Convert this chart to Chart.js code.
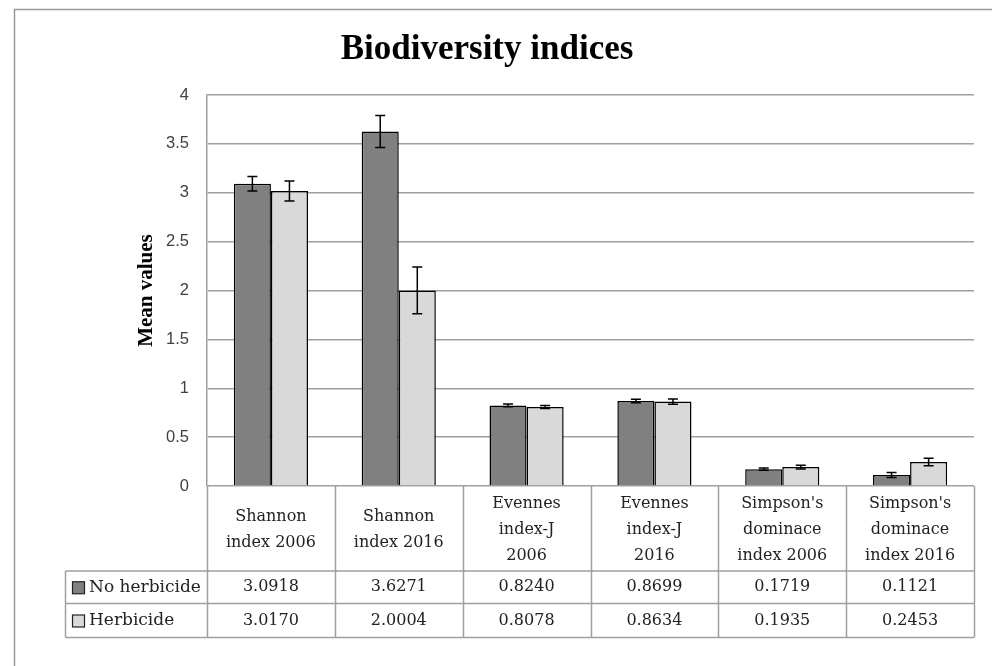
<!DOCTYPE html>
<html>
<head>
<meta charset="utf-8">
<script src="https://cdn.jsdelivr.net/npm/chart.js@4/dist/chart.umd.min.js"></script>
<style>
  html, body { margin: 0; padding: 0; background: #fff; }
  #wrap { width: 992px; height: 666px; }
</style>
</head>
<body>
<div id="wrap"><canvas id="myChart" width="992" height="666"></canvas></div>
<script>
const categories = [
    ['Shannon', 'index 2006'],
    ['Shannon', 'index 2016'],
    ['Evennes', 'index-J', '2006'],
    ['Evennes', 'index-J', '2016'],
    ["Simpson's", 'dominace', 'index 2006'],
    ["Simpson's", 'dominace', 'index 2016']
];
const seriesNames = ['No herbicide', 'Herbicide'];
const noHerbicide = [3.0918, 3.6271, 0.8240, 0.8699, 0.1719, 0.1121];
const herbicide = [3.0170, 2.0004, 0.8078, 0.8634, 0.1935, 0.2453];
// error bar half-lengths
const noHerbicideErr = [0.074, 0.164, 0.014, 0.017, 0.012, 0.026];
const herbicideErr = [0.102, 0.239, 0.015, 0.026, 0.020, 0.038];
const yTicks = [0, 0.5, 1, 1.5, 2, 2.5, 3, 3.5, 4];

const serif = "'Liberation Serif', 'DejaVu Serif', serif";
const tableFont = "'DejaVu Serif', serif";
const lineGray = '#a0a0a0';

// white page + outer frame
const framePlugin = {
    id: 'frame',
    beforeDraw(chart) {
        const ctx = chart.ctx;
        ctx.save();
        ctx.fillStyle = '#fff';
        ctx.fillRect(0, 0, chart.width, chart.height);
        ctx.strokeStyle = '#999';
        ctx.lineWidth = 1.5;
        ctx.strokeRect(14.5, 9.5, chart.width + 20, chart.height + 20);
        ctx.restore();
    }
};

// error bars on top of each bar
const errorBarPlugin = {
    id: 'errorBars',
    afterDatasetsDraw(chart) {
        const ctx = chart.ctx;
        const y = chart.scales.y;
        const errs = [noHerbicideErr, herbicideErr];
        ctx.save();
        ctx.strokeStyle = '#000';
        ctx.lineWidth = 1.5;
        chart.data.datasets.forEach((ds, di) => {
            chart.getDatasetMeta(di).data.forEach((bar, i) => {
                const v = ds.data[i];
                const e = errs[di][i];
                const top = y.getPixelForValue(v + e);
                const bot = y.getPixelForValue(v - e);
                ctx.beginPath();
                ctx.moveTo(bar.x, top); ctx.lineTo(bar.x, bot);
                ctx.moveTo(bar.x - 5, top); ctx.lineTo(bar.x + 5, top);
                ctx.moveTo(bar.x - 5, bot); ctx.lineTo(bar.x + 5, bot);
                ctx.stroke();
            });
        });
        ctx.restore();
    }
};

// Excel style data table under the plot
const dataTablePlugin = {
    id: 'dataTable',
    afterDraw(chart) {
        const ctx = chart.ctx;
        const x = chart.scales.x;
        const area = chart.chartArea;
        const n = categories.length;
        const colW = (area.right - area.left) / n;
        const headTop = area.bottom;
        const row1 = 571, row2 = 603.5, rowEnd = 637.5;
        const legendLeft = 65.5;
        const rows = [noHerbicide, herbicide];
        const colors = chart.data.datasets.map(d => d.backgroundColor);

        ctx.save();
        ctx.strokeStyle = lineGray;
        ctx.lineWidth = 1.5;
        ctx.beginPath();
        // verticals through header and rows
        for (let i = 0; i <= n; i++) {
            const bx = Math.round(x.getPixelForValue(i) - colW / 2) + 0.5;
            ctx.moveTo(bx, headTop);
            ctx.lineTo(bx, rowEnd);
        }
        ctx.moveTo(legendLeft, row1); ctx.lineTo(legendLeft, rowEnd);
        // horizontals
        ctx.moveTo(legendLeft, row1); ctx.lineTo(area.right, row1);
        ctx.moveTo(legendLeft, row2); ctx.lineTo(area.right, row2);
        ctx.moveTo(legendLeft, rowEnd); ctx.lineTo(area.right, rowEnd);
        ctx.stroke();

        ctx.fillStyle = '#222';
        ctx.font = '16px ' + tableFont;
        ctx.textAlign = 'center';
        ctx.textBaseline = 'middle';
        const lh = 26;
        categories.forEach((lines, i) => {
            const cx = x.getPixelForValue(i);
            const midY = (headTop + row1) / 2 + 1;
            const y0 = midY - (lines.length - 1) * lh / 2;
            lines.forEach((t, k) => ctx.fillText(t, cx, y0 + k * lh));
        });
        rows.forEach((vals, r) => {
            const cy = r === 0 ? (row1 + row2) / 2 : (row2 + rowEnd) / 2;
            ctx.font = '16px ' + tableFont;
            vals.forEach((v, i) => ctx.fillText(v.toFixed(4), x.getPixelForValue(i), cy));
            // legend key
            ctx.fillStyle = colors[r];
            ctx.fillRect(72.5, cy - 5.5, 12, 12);
            ctx.strokeStyle = '#222';
            ctx.lineWidth = 1.2;
            ctx.strokeRect(72.5, cy - 5.5, 12, 12);
            ctx.fillStyle = '#222';
            ctx.textAlign = 'left';
            ctx.font = '17px ' + tableFont;
            ctx.fillText(seriesNames[r], 89, cy);
            ctx.textAlign = 'center';
        });
        ctx.restore();
    }
};

const ctx = document.getElementById('myChart').getContext('2d');
new Chart(ctx, {
    type: 'bar',
    data: {
        labels: categories,
        datasets: [{
            label: seriesNames[0],
            data: noHerbicide,
            backgroundColor: '#808080',
            borderColor: '#000',
            borderWidth: 1.5
        }, {
            label: seriesNames[1],
            data: herbicide,
            backgroundColor: '#d9d9d9',
            borderColor: '#000',
            borderWidth: 1.5
        }]
    },
    options: {
        responsive: false,
        animation: false,
        layout: { padding: { top: 0, right: 18, bottom: 180, left: 0 } },
        datasets: { bar: { categoryPercentage: 0.58, barPercentage: 1 } },
        plugins: {
            legend: { display: false },
            tooltip: { enabled: false },
            title: {
                display: true,
                text: 'Biodiversity indices',
                color: '#000',
                font: { family: serif, size: 35, weight: 'bold' },
                padding: { top: 29, bottom: 24 }
            }
        },
        scales: {
            x: { display: false },
            y: {
                min: 0,
                max: 4,
                afterBuildTicks(scale) {
                    scale.ticks = yTicks.map(v => ({ value: v }));
                },
                afterFit(scale) { scale.width = 207; },
                grid: { color: lineGray, lineWidth: 1.5, drawTicks: false },
                border: { display: true, color: lineGray, width: 1.5 },
                ticks: {
                    padding: 18,
                    color: '#404040',
                    font: { family: "'Liberation Sans', Arial, sans-serif", size: 16.5 },
                    callback: v => String(v)
                },
                title: {
                    display: true,
                    text: 'Mean values',
                    color: '#000',
                    font: { family: serif, size: 21, weight: 'bold' },
                    padding: { top: 134, bottom: 0 }
                }
            }
        }
    },
    plugins: [framePlugin, errorBarPlugin, dataTablePlugin]
});
</script>
</body>
</html>
